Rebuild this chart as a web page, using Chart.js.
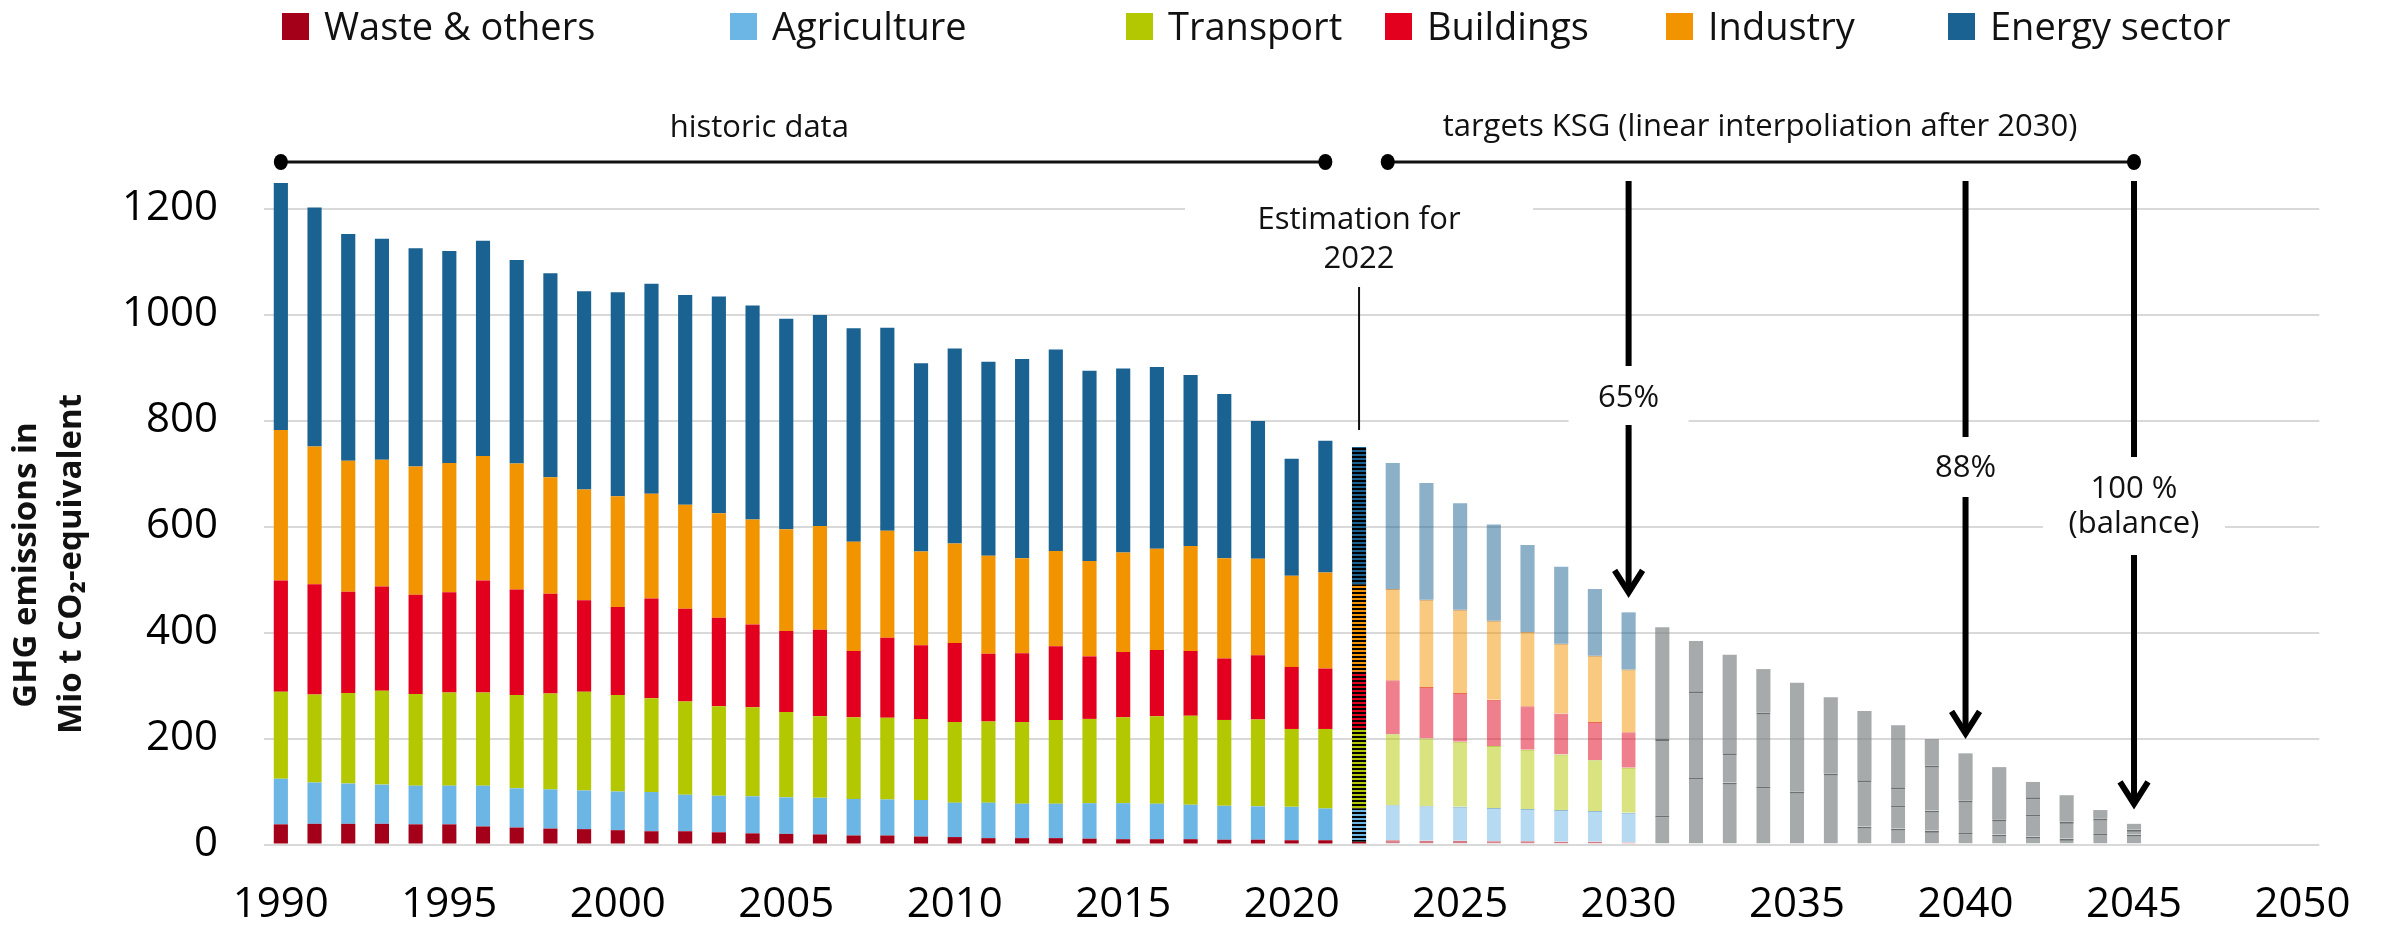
<!DOCTYPE html>
<html>
<head>
<meta charset="utf-8">
<script src="https://cdn.jsdelivr.net/npm/chart.js@4.4.0/dist/chart.umd.min.js"></script>
<style>
  html, body { margin: 0; padding: 0; background: #fff; }
  #wrap { position: relative; width: 2386px; height: 928px; }
</style>
</head>
<body>
<div id="wrap"><canvas id="ghg"></canvas></div>
<script>
// years 1990 - 2050
var years = [];
for (var yr = 1990; yr <= 2050; yr++) years.push(String(yr));

var sectors = ['Waste & others', 'Agriculture', 'Transport', 'Buildings', 'Industry', 'Energy sector'];

// Mio t CO2-eq, 1990-2021 historic, 2022 estimation, 2023-2030 KSG targets
var waste = [38,39,39,39,38,38,34,32,30,29, 27,25,25,23,21,20,19,17,17,15, 14,12,12,12,11,10,10,10,9,9, 8,8,6, 8,7,7,6,6,5,5,4];
var agriculture = [86,78,76,74,73,73,77,74,74,73, 73,74,69,69,70,69,69,69,68,69, 65,67,65,65,67,68,67,65,64,63, 63,60,62, 66,65,64,63,61,60,58,56];
var transport = [164,166,171,177,173,176,176,176,181,186, 182,177,176,169,168,161,154,154,154,153, 152,153,154,158,159,162,165,168,162,164, 147,150,148, 134,128,123,117,112,105,96,85];
var buildings = [210,208,191,197,187,189,211,199,188,173, 166,188,175,167,156,153,163,125,151,139, 149,128,130,139,118,123,125,122,116,121, 117,114,110, 102,97,92,87,82,77,72,67];
var industry = [284,260,247,239,242,244,235,238,220,209, 209,198,196,197,198,192,196,206,202,177, 188,185,179,180,180,188,191,198,189,182, 172,181,164, 172,165,157,149,140,132,125,118];
var energy = [466,451,428,417,412,400,406,384,385,374, 385,396,396,409,404,397,398,403,383,355, 368,366,376,380,359,347,343,323,310,260, 221,249,260, 238,220,201,182,164,145,126,108];

// 2031-2045, linear interpolation (grey stacked pieces, bottom to top)
var grey1 = [55,127,117,110,100,134,34,30,26,23,19,15,11,21,19];
var grey2 = [144,162,55,139,205,144,87,44,38,60,28,42,32,28,9];
var grey3 = [211,95,186,82,null,null,131,34,85,89,99,32,50,16,11];
var grey4 = [null,null,null,null,null,null,null,117,50,null,null,29,null,null,null];

var yTicks = [0, 200, 400, 600, 800, 1000, 1200];

var solid = ['#a50019', '#6cb6e6', '#b3c800', '#e2001e', '#f29400', '#1a6291'];
var paleC = ['rgba(165,0,25,0.5)', 'rgba(108,182,230,0.5)', 'rgba(179,200,0,0.5)', 'rgba(226,0,30,0.5)', 'rgba(242,148,0,0.5)', 'rgba(26,98,145,0.5)'];
var edgeC = ['rgba(200,60,70,0.8)', 'rgba(120,170,200,0.8)', 'rgba(180,200,60,0.9)', 'rgba(230,90,60,0.9)', 'rgba(200,150,90,0.9)', 'rgba(0,0,0,0)'];
var greyFill = 'rgba(126,130,130,0.68)';
var greyEdge = '#6d7171';

var i2022 = 32;

function pad(arr, start) {
  var out = [];
  for (var i = 0; i < years.length; i++) {
    var j = i - start;
    out.push(j >= 0 && j < arr.length ? arr[j] : null);
  }
  return out;
}

var canvas = document.getElementById('ghg');
var mainCtx = canvas.getContext('2d');

function stripes(color) {
  var c = document.createElement('canvas');
  c.width = 4; c.height = 4;
  var x = c.getContext('2d');
  x.fillStyle = '#000'; x.fillRect(0, 0, 4, 2);
  x.fillStyle = color; x.fillRect(0, 2, 4, 2);
  return mainCtx.createPattern(c, 'repeat');
}
var patterns = solid.map(stripes);

var sectorData = [waste, agriculture, transport, buildings, industry, energy];
var greyData = [grey1, grey2, grey3, grey4];

var datasets = sectorData.map(function (arr, k) {
  return {
    label: sectors[k],
    data: pad(arr, 0),
    clip: false,
    backgroundColor: function (c) {
      if (c.dataIndex < i2022) return solid[k];
      if (c.dataIndex === i2022) return patterns[k];
      return paleC[k];
    },
    borderColor: edgeC[k],
    borderWidth: function (c) {
      return (c.dataIndex > i2022 && k < 5) ? { top: 1 } : 0;
    }
  };
});

greyData.forEach(function (arr, k) {
  datasets.push({
    label: 'grey' + k,
    data: pad(arr, 41),
    clip: false,
    backgroundColor: greyFill,
    borderColor: greyEdge,
    borderWidth: function (c) {
      var j = c.dataIndex - 41;
      for (var m = k + 1; m < greyData.length; m++) {
        if (greyData[m][j] != null) return { top: 2 };
      }
      return 0;
    }
  });
});

function total(i) {
  var s = 0;
  datasets.forEach(function (d) { if (d.data[i] != null) s += d.data[i]; });
  return s;
}

var legendX = [282, 730, 1126, 1385, 1666, 1948];

var annot = {
  id: 'annot',
  afterDraw: function (chart) {
    var c = chart.ctx, xs = chart.scales.x, ys = chart.scales.y;
    function px(y) { return xs.getPixelForValue(y - 1990); }
    c.save();

    // legend
    c.font = '38px "Open Sans"';
    c.textBaseline = 'alphabetic';
    c.textAlign = 'left';
    sectors.forEach(function (s, k) {
      c.fillStyle = solid[k];
      c.fillRect(legendX[k], 13, 27, 27);
      c.fillStyle = '#111';
      c.fillText(s, legendX[k] + 42, 40);
    });

    // axis title
    c.font = 'bold 33px "Open Sans"';
    c.fillStyle = '#111';
    c.textAlign = 'center';
    c.save(); c.translate(36, 565); c.rotate(-Math.PI / 2); c.fillText('GHG emissions in', 0, 0); c.restore();
    c.save(); c.translate(81, 564); c.rotate(-Math.PI / 2); c.fillText('Mio t CO\u2082-equivalent', 0, 0); c.restore();

    // period lines
    var lineY = 162;
    function period(x1, x2) {
      c.strokeStyle = '#111'; c.lineWidth = 3;
      c.beginPath(); c.moveTo(x1, lineY); c.lineTo(x2, lineY); c.stroke();
      c.fillStyle = '#000';
      [x1, x2].forEach(function (x) { c.beginPath(); c.ellipse(x, lineY, 7, 8, 0, 0, Math.PI * 2); c.fill(); });
    }
    period(px(1990), px(2021));
    period(px(2023) - 5, px(2045));

    c.font = '31px "Open Sans"';
    c.fillStyle = '#111';
    c.textAlign = 'center';
    c.fillText('historic data', px(2004.2), 137);
    c.fillText('targets KSG (linear interpoliation after 2030)', px(2033.9), 136);

    // estimation note
    c.fillStyle = '#fff';
    c.fillRect(px(2022) - 174, 190, 348, 90);
    c.fillStyle = '#111';
    c.fillText('Estimation for', px(2022), 229);
    c.fillText('2022', px(2022), 268);
    c.lineWidth = 2; c.strokeStyle = '#111';
    c.beginPath(); c.moveTo(px(2022), 287); c.lineTo(px(2022), ys.getPixelForValue(total(i2022)) - 17); c.stroke();

    // target arrows
    function arrow(year, boxW, boxTop, boxH, lines, baseY) {
      var x = px(year);
      var tip = ys.getPixelForValue(total(year - 1990)) - 18;
      c.strokeStyle = '#000'; c.lineWidth = 6; c.lineJoin = 'miter'; c.lineCap = 'butt';
      c.beginPath(); c.moveTo(x, 181); c.lineTo(x, tip - 3); c.stroke();
      c.beginPath(); c.moveTo(x - 14, tip - 24); c.lineTo(x, tip - 2); c.lineTo(x + 14, tip - 24); c.stroke();
      c.fillStyle = '#fff';
      c.fillRect(x - boxW / 2, boxTop, boxW, boxH);
      c.fillStyle = '#111';
      lines.forEach(function (t, n) { c.fillText(t, x, baseY + n * 35); });
    }
    arrow(2030, 120, 366, 59, ['65%'], 407);
    arrow(2040, 110, 437, 60, ['88%'], 477);
    arrow(2045, 182, 457, 98, ['100 %', '(balance)'], 498);

    c.restore();
  }
};

Chart.defaults.font.family = '"Open Sans", sans-serif';
Chart.defaults.color = '#111';

new Chart(canvas, {
  type: 'bar',
  data: { labels: years, datasets: datasets },
  options: {
    responsive: true,
    maintainAspectRatio: false,
    animation: false,
    layout: { padding: { top: 208.5, right: 60, bottom: 0, left: 0 } },
    datasets: { bar: { categoryPercentage: 1, barPercentage: 0.42 } },
    plugins: { legend: { display: false }, tooltip: { enabled: false } },
    scales: {
      x: {
        stacked: true,
        grid: { display: false, drawTicks: false },
        border: { display: false },
        ticks: {
          autoSkip: false, maxRotation: 0, minRotation: 0, padding: 35,
          font: { size: 42 }, color: '#000',
          callback: function (v, i) { return years[i] % 5 === 0 ? years[i] : ''; }
        },
        afterFit: function (s) { s.height = 83.5; }
      },
      y: {
        stacked: true,
        min: yTicks[0], max: yTicks[yTicks.length - 1],
        grid: { color: '#d9d9d9', lineWidth: 2, drawTicks: false },
        border: { display: false },
        ticks: {
          stepSize: 200, padding: 46, font: { size: 42 }, color: '#000',
          callback: function (v) { return String(v); }
        },
        afterFit: function (s) { s.width = 264; }
      }
    }
  },
  plugins: [annot]
});
</script>
</body>
</html>
